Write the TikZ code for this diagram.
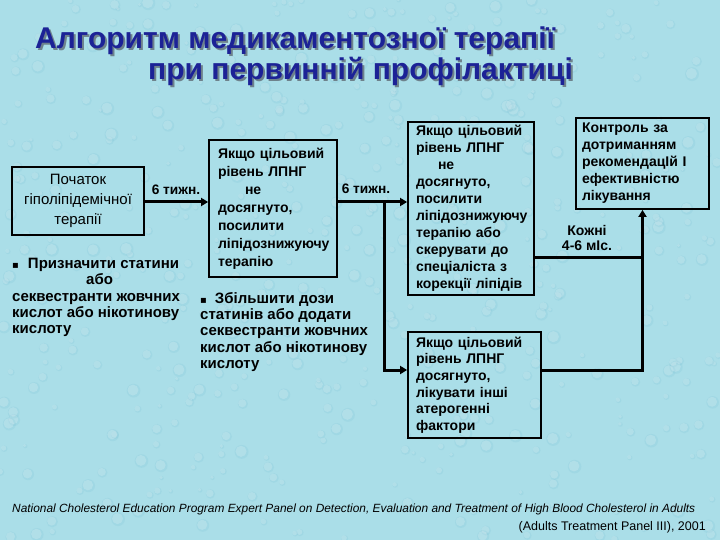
\documentclass[tikz,border=0pt]{standalone}
\usepackage{fontspec}
\setmainfont{Liberation Sans}
\newfontfamily\symf{DejaVu Sans}
\usetikzlibrary{arrows.meta}
\definecolor{bg}{RGB}{170,222,232}
\definecolor{drop}{RGB}{120,190,210}
\definecolor{ttl}{RGB}{28,34,150}
\definecolor{shd}{RGB}{110,130,140}
\newcommand{\shadowed}[1]{\rlap{\hspace{2pt}\raisebox{-2pt}{\color{shd}#1}}#1}
\begin{document}
\begin{tikzpicture}[x=1pt,y=-1pt,
  box/.style={draw=black,line width=1.8pt,inner ysep=0pt,align=left,
    font=\bfseries\fontsize{14}{17}\selectfont,anchor=center},
  ttlstyle/.style={anchor=west,inner sep=0pt,text=ttl,font=\bfseries\fontsize{30}{32}\selectfont},
  conn/.style={line width=3pt},
  arr/.style={line width=3pt,-{Triangle[length=7pt,width=8pt]}},
  lbl/.style={inner sep=0pt,font=\bfseries\fontsize{13.7}{15}\selectfont,align=center},
  bul/.style={inner sep=0pt,anchor=north west,align=left,font=\bfseries\fontsize{15}{16.3}\selectfont},
  foot/.style={inner sep=0pt,font=\fontsize{12.5}{14}\selectfont}]
\fill[bg] (0,0) rectangle (720,540);
\useasboundingbox (0,0) rectangle (720,540);
% background texture (water drops)
\pgfmathsetseed{11}
\foreach \i in {1,...,520}{
  \pgfmathsetmacro\xx{rnd*720}
  \pgfmathsetmacro\yy{rnd*540}
  \pgfmathsetmacro\rr{2+rnd*5}
  \fill[drop,opacity=0.18] (\xx,\yy) circle[radius=\rr];
  \fill[white,opacity=0.18] (\xx-0.6,\yy-0.6) circle[radius=\rr*0.8];
}
% title
\node[ttlstyle] (t1) at (35,42) {\shadowed{Алгоритм медикаментозної терапії}};
\node[ttlstyle] (t2) at (148,72) {\shadowed{при первинній профілактиці}};
% boxes
\node[box,align=center,font=\fontsize{15}{20}\selectfont,text width=120pt,inner xsep=6pt,minimum height=68pt] (b1) at (78,201)
  {Початок\\гіполіпідемічної\\терапії};
\node[box,text width=110pt,inner xsep=9pt,minimum height=137pt,font=\bfseries\fontsize{14}{18}\selectfont] (b2) at (273,208.5)
  {Якщо цільовий\\рівень ЛПНГ\\\hspace*{27pt}не\\досягнуто,\\посилити\\ліпідознижуючу\\терапію};
\node[box,text width=110pt,inner xsep=8pt,minimum height=173pt] (b3) at (471,208.5)
  {Якщо цільовий\\рівень ЛПНГ\\\hspace*{22pt}не\\досягнуто,\\посилити\\ліпідознижуючу\\терапію або\\скерувати до\\спеціаліста з\\корекції ліпідів};
\node[box,text width=117pt,inner xsep=8pt,minimum height=106pt,font=\bfseries\fontsize{14}{16.6}\selectfont] (b4) at (474.5,385)
  {Якщо цільовий\\рівень ЛПНГ\\досягнуто,\\лікувати інші\\атерогенні\\фактори};
\node[box,text width=121pt,inner xsep=6pt,minimum height=91pt] (b5) at (642.5,163.5)
  {Контроль за\\дотриманням\\рекомендацІй І\\ефективністю\\лікування};
% connector helper coordinates
\coordinate (r202) at (0,202);
\coordinate (r257) at (0,257);
\coordinate (r370) at (0,370);
\coordinate (j1) at (384,202);
% connectors
\draw[arr] (b1.east |- r202) -- (b2.west |- r202);
\draw[arr] (b2.east |- r202) -- (b3.west |- r202);
\draw[arr] (j1) |- (b4.west |- r370);
\draw[conn] (b3.east |- r257) -- (b5.south |- r257);
\draw[arr] (b4.east |- r370) -| (b5.south);
% labels
\node[lbl] (l1) at (176,190) {6 тижн.};
\node[lbl] (l2) at (366,189) {6 тижн.};
\node[lbl,font=\bfseries\fontsize{14}{15.5}\selectfont] (l3) at (587,238) {Кожні\\4-6 мІс.};
% bullet texts
\node[bul] (n1) at (12,258) {{\symf\fontsize{10}{12}\selectfont ▪}\hspace{9pt}Призначити статини\\\hspace*{74pt}або\\секвестранти жовчних\\кислот або нікотинову\\кислоту};
\node[bul] (n2) at (200,292) {{\symf\fontsize{10}{12}\selectfont ▪}\hspace{8pt}Збільшити дози\\статинів або додати\\секвестранти жовчних\\кислот або нікотинову\\кислоту};
% footnote
\node[foot,anchor=west,font=\itshape\fontsize{11.9}{13}\selectfont] (f1) at (12,509) {National Cholesterol Education Program Expert Panel on Detection, Evaluation and Treatment of High Blood Cholesterol in Adults};
\node[foot,anchor=east] (f2) at (706,527) {(Adults Treatment Panel III), 2001};
\end{tikzpicture}
\end{document}
